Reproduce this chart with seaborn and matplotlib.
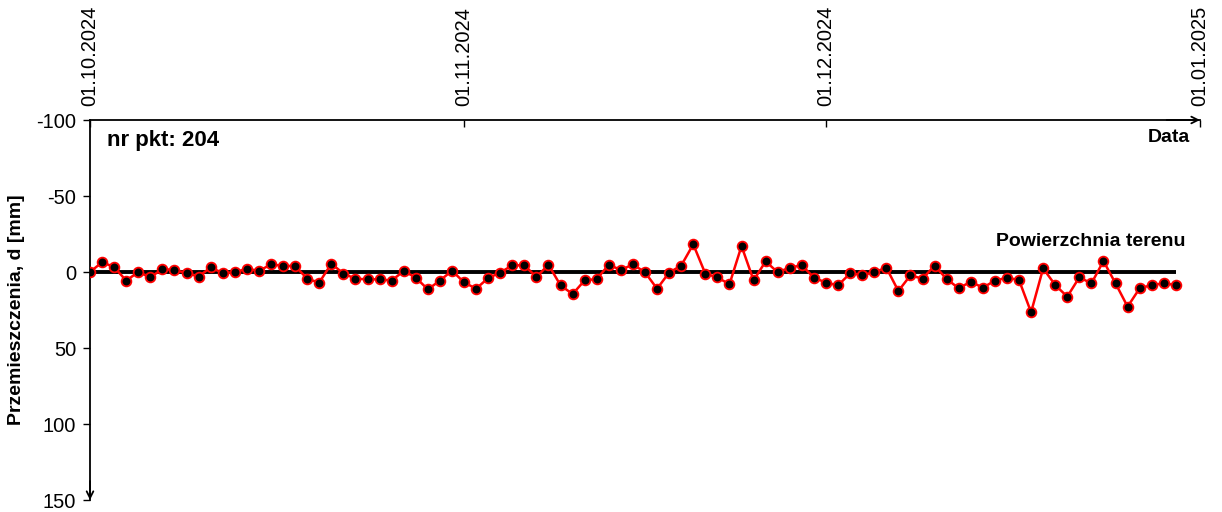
import matplotlib
matplotlib.use("Agg")
import matplotlib.pyplot as plt
import seaborn as sns
import pandas as pd

# ---- data ----
start_date = "2024-10-01"
n_days = 91
displacement = [
    0.0, -6.4, -3.3, 5.7, 0.0, 3.5, -2.0, -1.3, 0.7, 3.0,
    -3.0, 0.7, 0.2, -2.2, -0.7, -5.0, -4.0, -4.0, 4.4, 7.0,
    -5.5, 1.0, 4.4, 4.8, 4.8, 5.7, -0.7, 3.7, 11.4, 5.7,
    -0.9, 6.8, 11.0, 4.0, 0.4, -4.4, -4.4, 3.3, -4.8, 8.8,
    14.5, 5.5, 4.6, -4.8, -1.3, -5.0, 0.2, 11.0, 0.4, -4.2,
    -18.2, 1.1, 3.5, 8.1, -17.1, 5.5, -7.0, 0.2, -2.9, -4.4,
    3.7, 7.0, 8.8, 0.9, 2.0, 0.2, -2.9, 12.5, 2.2, 4.4,
    -4.2, 4.6, 10.7, 6.4, 10.3, 5.7, 3.7, 5.3, 26.5, -2.4,
    8.6, 16.2, 3.5, 7.5, -7.2, 7.5, 22.8, 10.7, 8.6, 7.5,
    8.6,
]
xtick_dates = ["2024-10-01", "2024-11-01", "2024-12-01", "2025-01-01"]
xtick_labels = ["01.10.2024", "01.11.2024", "01.12.2024", "01.01.2025"]
yticks = [-100, -50, 0, 50, 100, 150]
point_label = "nr pkt: 204"
y_title = "Przemieszczenia, d [mm]"
x_title = "Data"
ground_label = "Powierzchnia terenu"

dates = pd.date_range(start_date, periods=n_days, freq="D")
df = pd.DataFrame({"date": dates, "d": displacement})

sns.set_style("white")
plt.rcParams["font.family"] = ["Liberation Sans", "DejaVu Sans"]
plt.rcParams["text.color"] = "black"
plt.rcParams["axes.labelcolor"] = "black"
plt.rcParams["xtick.color"] = "black"
plt.rcParams["ytick.color"] = "black"

fig = plt.figure(figsize=(12.22, 5.12), dpi=100)
ax = fig.add_axes([90 / 1222, 12 / 512, 1110 / 1222, 380 / 512])

# ground surface line
ax.plot([dates[0], dates[-1]], [0, 0], color="black", lw=2.8, zorder=2,
        solid_capstyle="butt")

sns.lineplot(data=df, x="date", y="d", ax=ax, color="red", lw=1.8,
             marker="o", markersize=7, markerfacecolor="black",
             markeredgecolor="red", markeredgewidth=1.3, zorder=3)

ax.set_xlim(pd.Timestamp(xtick_dates[0]), pd.Timestamp(xtick_dates[-1]))
ax.set_ylim(150, -100)

ax.xaxis.tick_top()
ax.set_xticks(pd.to_datetime(xtick_dates))
ax.set_xticklabels(xtick_labels, rotation=90, fontsize=14.5)
ax.tick_params(axis="x", direction="in", length=5, width=1, top=True,
               bottom=False, pad=10, colors="black")
ax.set_yticks(yticks)
ax.set_yticklabels([str(v) for v in yticks], fontsize=14.5)
ax.tick_params(axis="y", direction="out", length=5, width=1, left=True,
               pad=5, colors="black")

ax.set_xlabel("")
ax.set_ylabel(y_title, fontsize=14, fontweight="bold", labelpad=8,
              color="black")

for s in ["right", "bottom"]:
    ax.spines[s].set_visible(False)
for s in ["top", "left"]:
    ax.spines[s].set_color("black")
    ax.spines[s].set_linewidth(1.3)

# arrow heads on axes
ax.annotate("", xy=(1.0, 1.0), xytext=(0.97, 1.0), xycoords="axes fraction",
            arrowprops=dict(arrowstyle="->", color="black", lw=1.3,
                            mutation_scale=12, shrinkA=0, shrinkB=0))
ax.annotate("", xy=(0.0, 0.0), xytext=(0.0, 0.05), xycoords="axes fraction",
            arrowprops=dict(arrowstyle="->", color="black", lw=1.3,
                            mutation_scale=12, shrinkA=0, shrinkB=0))

ax.text(0.015, 0.947, point_label, transform=ax.transAxes, fontsize=16,
        fontweight="bold", ha="left", va="center", color="black")
ax.text(0.991, 0.955, x_title, transform=ax.transAxes, fontsize=14,
        fontweight="bold", ha="right", va="center", color="black")
ax.text(0.9865, 0.679, ground_label, transform=ax.transAxes, fontsize=14,
        fontweight="bold", ha="right", va="center", color="black")

ax.grid(False)
fig.savefig("out.png", dpi=100)
